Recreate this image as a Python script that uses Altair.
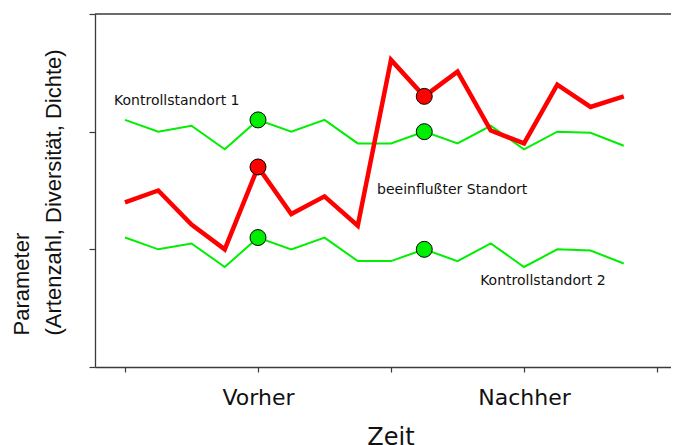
import altair as alt
import pandas as pd

# ---- data ----
zeit = list(range(16))
beeinflusst = [1.40, 1.50, 1.21, 1.00, 1.70, 1.30, 1.45, 1.20,
               2.61, 2.30, 2.51, 2.01, 1.90, 2.40, 2.21, 2.30]
kontroll1 = [2.10, 2.00, 2.05, 1.85, 2.10, 2.00, 2.10, 1.90,
             1.90, 2.00, 1.90, 2.05, 1.85, 2.00, 1.99, 1.88]
kontroll2 = [1.10, 1.00, 1.05, 0.85, 1.10, 1.00, 1.10, 0.90,
             0.90, 1.00, 0.90, 1.05, 0.85, 1.00, 0.99, 0.88]
marker_idx = [4, 9]
x_tick_values = [0, 4, 8, 12, 16]
y_tick_values = [0, 1, 2, 3]
series_names = ["Kontrollstandort 1", "Kontrollstandort 2", "beeinflußter Standort"]
label_texts = ["Kontrollstandort 1", "beeinflußter Standort", "Kontrollstandort 2"]
label_x = [-0.33, 7.58, 10.68]
label_y = [2.226, 1.47, 0.697]

GREEN = "#00EE00"
RED = "#FF0000"
AXIS = "#3a3a3a"

rows = []
for name, vals in zip(series_names, [kontroll1, kontroll2, beeinflusst]):
    for t, v in zip(zeit, vals):
        rows.append({"t": t, "v": v, "s": name})
df = pd.DataFrame(rows)
marker_df = df[df["t"].isin(marker_idx)]
label_df = pd.DataFrame({"x": label_x, "y": label_y, "text": label_texts})
top_df = pd.DataFrame({"y": [3]})

xscale = alt.Scale(domain=[-0.902, 16.42], nice=False, zero=False)
yscale = alt.Scale(domain=[0, 3], nice=False, zero=True)

x_axis = alt.Axis(
    values=x_tick_values,
    labelExpr="datum.value == 4 ? 'Vorher' : datum.value == 12 ? 'Nachher' : ''",
    labelOverlap=False,
    tickSize=5, tickColor=AXIS, tickWidth=1.2,
    domainColor=AXIS, domainWidth=1.3,
    grid=False,
    labelFont="DejaVu Sans", labelFontSize=22, labelColor="#111",
    labelBaseline="alphabetic", labelPadding=32,
    title="Zeit", titleFont="DejaVu Sans", titleFontSize=24,
    titleFontWeight="normal", titleColor="#111",
    titleX=295.5, titleY=77.2, titleBaseline="alphabetic", titleAlign="center",
)
y_axis = alt.Axis(
    values=y_tick_values, labels=False,
    tickSize=6, tickColor=AXIS, tickWidth=1.2,
    domainColor=AXIS, domainWidth=1.3,
    grid=False,
    title=["Parameter", "(Artenzahl, Diversität, Dichte)"],
    titleFont="Liberation Sans", titleFontSize=22, titleFontWeight="normal",
    titleColor="#111",
    titleAngle=270, titleAlign="left", titleBaseline="alphabetic",
    titleX=-66.5, titleY=321, titleLineHeight=32,
)

base_x = alt.X("t:Q", scale=xscale, axis=x_axis)
base_y = alt.Y("v:Q", scale=yscale, axis=y_axis)

top_line = alt.Chart(top_df).mark_rule(color=AXIS, strokeWidth=1.3).encode(
    y=alt.Y("y:Q", scale=yscale)
)

green = alt.Chart(df[df["s"] != "beeinflußter Standort"]).mark_line(
    color=GREEN, strokeWidth=2
).encode(x=base_x, y=base_y, detail="s:N")

red = alt.Chart(df[df["s"] == "beeinflußter Standort"]).mark_line(
    color=RED, strokeWidth=4.5, strokeJoin="miter"
).encode(x=base_x, y=base_y)

markers = alt.Chart(marker_df).mark_circle(
    size=255, stroke="black", strokeWidth=1, opacity=1
).encode(
    x=base_x, y=base_y,
    fill=alt.Fill("s:N", scale=alt.Scale(domain=series_names, range=[GREEN, GREEN, RED]), legend=None),
)

labels = alt.Chart(label_df).mark_text(
    align="left", baseline="alphabetic", font="DejaVu Sans", fontSize=14, color="#111"
).encode(
    x=alt.X("x:Q", scale=xscale),
    y=alt.Y("y:Q", scale=yscale),
    text="text:N",
)

chart = alt.layer(top_line, green, red, markers, labels).properties(
    width=576, height=353,
    autosize=alt.AutoSizeParams(type="none"),
    padding={"left": 87, "top": 6, "right": 0, "bottom": 80},
).configure_view(stroke=None)

chart.save("out.html", embed_options={"renderer": "svg", "actions": False})
